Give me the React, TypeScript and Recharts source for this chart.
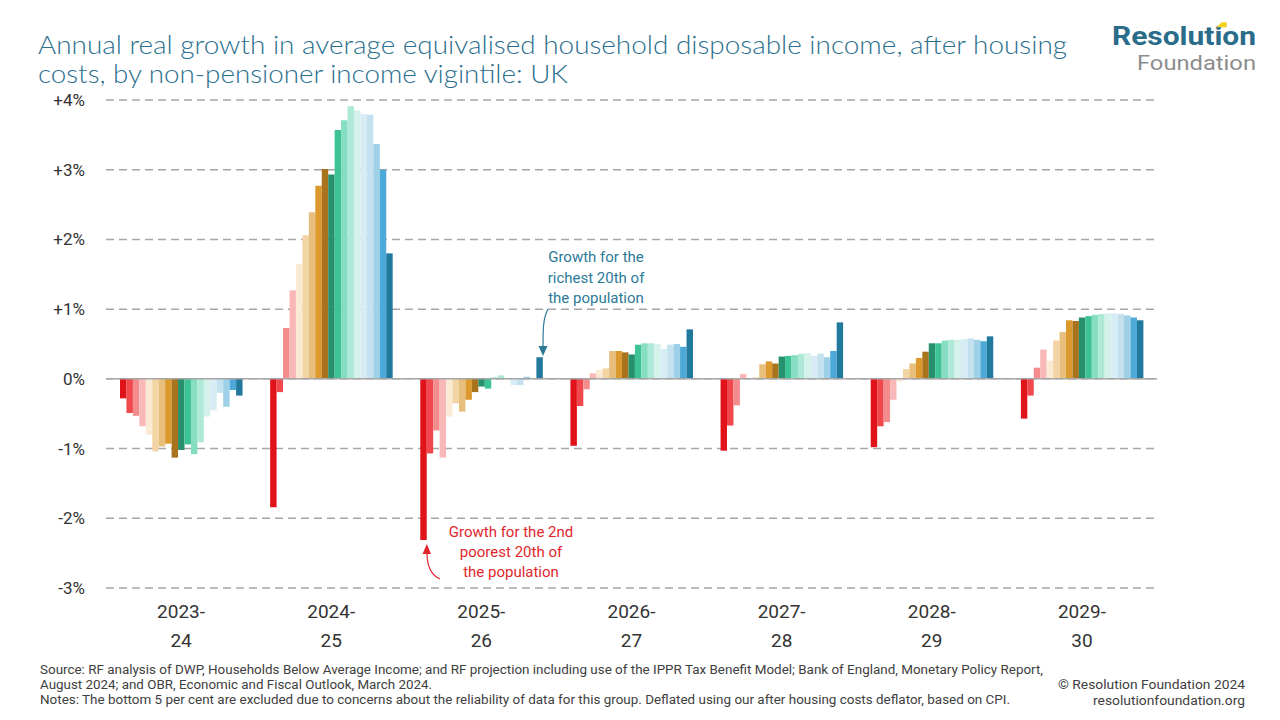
import { BarChart, Bar, XAxis, YAxis, CartesianGrid, ReferenceLine } from 'recharts';

const years = ['2023-24', '2024-25', '2025-26', '2026-27', '2027-28', '2028-29', '2029-30'];
const vigintiles = [2, 3, 4, 5, 6, 7, 8, 9, 10, 11, 12, 13, 14, 15, 16, 17, 18, 19, 20];
const colours = [
    '#e0121a', '#f0484c', '#f48c8e', '#f9b8b8', '#faead3', '#f3d4a4', '#e8be7c', '#dc9a2e', '#a9721d',
    '#27906c', '#3dc293', '#85ddc2', '#aee8d6', '#d4f2ea', '#d8ecf5', '#c3e1ef', '#9ed0e7', '#4ca9d8', '#22799e',
];

// growth (%) by vigintile 2..20, one array per year
const growth2023 = [-0.28, -0.49, -0.53, -0.68, -0.80, -1.04, -0.97, -0.93, -1.13, -1.02, -0.94, -1.08, -0.91, -0.54, -0.45, -0.20, -0.40, -0.16, -0.24];
const growth2024 = [-1.84, -0.19, 0.73, 1.27, 1.65, 2.06, 2.39, 2.77, 3.01, 2.93, 3.57, 3.71, 3.91, 3.85, 3.80, 3.79, 3.37, 3.00, 1.80];
const growth2025 = [-2.31, -1.07, -0.74, -1.13, -0.54, -0.35, -0.47, -0.30, -0.19, -0.11, -0.14, 0.02, 0.05, 0.0, -0.09, -0.09, 0.03, 0.0, 0.31];
const growth2026 = [-0.96, -0.39, -0.15, 0.08, 0.13, 0.15, 0.40, 0.40, 0.38, 0.35, 0.49, 0.51, 0.51, 0.50, 0.43, 0.49, 0.50, 0.46, 0.71];
const growth2027 = [-1.03, -0.67, -0.38, 0.07, 0.01, 0.02, 0.21, 0.25, 0.22, 0.32, 0.33, 0.34, 0.36, 0.37, 0.33, 0.36, 0.31, 0.40, 0.81];
const growth2028 = [-0.98, -0.68, -0.62, -0.30, -0.04, 0.14, 0.22, 0.30, 0.39, 0.51, 0.51, 0.55, 0.56, 0.56, 0.57, 0.58, 0.56, 0.54, 0.61];
const growth2029 = [-0.57, -0.24, 0.16, 0.42, 0.26, 0.55, 0.67, 0.84, 0.83, 0.88, 0.90, 0.92, 0.93, 0.94, 0.94, 0.93, 0.91, 0.88, 0.84];

const yTicks = [-3, -2, -1, 0, 1, 2, 3, 4];

const allGrowth = [growth2023, growth2024, growth2025, growth2026, growth2027, growth2028, growth2029];
const data = years.map((year, i) => {
    const row: any = { year };
    vigintiles.forEach((v, j) => { row['v' + v] = allGrowth[i][j]; });
    return row;
});

const font = 'Roboto, "Noto Sans", sans-serif';
const teal = '#2b6f8e';

const YearTick = (props: any) => {
    const { x, y, payload } = props;
    const [a, b] = String(payload.value).split('-');
    return (
        <text x={x} y={y} textAnchor="middle" fill="#333" fontSize={19} fontFamily={font}>
            <tspan x={x} dy={22}>{a}-</tspan>
            <tspan x={x} dy={29}>{b}</tspan>
        </text>
    );
};

export default function App() {
    return (
        <div style={{ position: 'relative', width: 1280, height: 720, margin: -8, background: '#fff', overflow: 'hidden' }}>
            <BarChart width={1280} height={720} data={data} barGap={0}
                margin={{ top: 100, right: 123, bottom: 72, left: 36 }}>
                <CartesianGrid vertical={false} stroke="#a6a6a6" strokeWidth={1.5} strokeDasharray="8 5" />
                <XAxis dataKey="year" axisLine={false} tickLine={false} height={60} interval={0} tick={<YearTick />} />
                <YAxis domain={[-3, 4]} ticks={yTicks} width={70} axisLine={false} tickLine={false} tickMargin={15}
                    tickFormatter={(v: number) => (v > 0 ? `+${v}%` : `${v}%`)}
                    tick={{ fill: '#333', fontSize: 17, fontFamily: font }} />
                <ReferenceLine y={0} stroke="#a6a6a6" strokeWidth={1.5} />
                {vigintiles.map((v, j) => (
                    <Bar key={v} dataKey={'v' + v} fill={colours[j]} barSize={6.45} isAnimationActive={false} />
                ))}
            </BarChart>

            <svg width={1280} height={720} style={{ position: 'absolute', left: 0, top: 0, pointerEvents: 'none' }}>
                {/* title */}
                <text x={38} y={54} fill={teal} fontSize={26} fontWeight={300} fontFamily='Lato, Roboto, sans-serif'
                    textLength={1029} lengthAdjust="spacingAndGlyphs">
                    Annual real growth in average equivalised household disposable income, after housing
                </text>
                <text x={38} y={83} fill={teal} fontSize={26} fontWeight={300} fontFamily='Lato, Roboto, sans-serif'
                    textLength={530} lengthAdjust="spacingAndGlyphs">
                    costs, by non-pensioner income vigintile: UK
                </text>

                {/* logo */}
                <text x={1112} y={45} fill="#2a6c8a" fontSize={25} fontWeight={700} fontFamily={font}
                    textLength={144} lengthAdjust="spacingAndGlyphs">Resolution</text>
                <polygon points="1216.7,27.3 1221.7,22.3 1226.7,22.3 1226.7,27.3" fill="#f2d21b" />
                <text x={1137} y={70} fill="#8c8c8c" fontSize={20} fontFamily={font}
                    textLength={119} lengthAdjust="spacingAndGlyphs">Foundation</text>

                {/* annotations */}
                <g fill="#2c7a98" fontSize={15} fontFamily={font} textAnchor="middle">
                    <text x={596} y={262}>Growth for the</text>
                    <text x={596} y={283}>richest 20th of</text>
                    <text x={596} y={303}>the population</text>
                </g>
                <path d="M 548 309 C 543 318, 543 330, 543 347" stroke="#2c7a98" strokeWidth={1.2} fill="none" />
                <polygon points="538.5,346 547.5,346 543,356" fill="#2c7a98" />

                <g fill="#e2262c" fontSize={15} fontFamily={font} textAnchor="middle">
                    <text x={511} y={537}>Growth for the 2nd</text>
                    <text x={511} y={557}>poorest 20th of</text>
                    <text x={511} y={577}>the population</text>
                </g>
                <path d="M 427 553 C 427 566, 431 575, 440 579" stroke="#e2262c" strokeWidth={1.2} fill="none" />
                <polygon points="422.5,554 431,554 426.8,544" fill="#e2262c" />

                {/* footer */}
                <g fill="#404040" fontSize={12.5} fontFamily='"Liberation Sans Narrow", Roboto, sans-serif'>
                    <text x={40} y={674} textLength={1003} lengthAdjust="spacingAndGlyphs">
                        Source: RF analysis of DWP, Households Below Average Income; and RF projection including use of the IPPR Tax Benefit Model; Bank of England, Monetary Policy Report,
                    </text>
                    <text x={40} y={689} textLength={392} lengthAdjust="spacingAndGlyphs">
                        August 2024; and OBR, Economic and Fiscal Outlook, March 2024.
                    </text>
                    <text x={40} y={704} textLength={970} lengthAdjust="spacingAndGlyphs">
                        Notes: The bottom 5 per cent are excluded due to concerns about the reliability of data for this group. Deflated using our after housing costs deflator, based on CPI.
                    </text>
                    <text x={1058} y={689} textLength={187} lengthAdjust="spacingAndGlyphs">© Resolution Foundation 2024</text>
                    <text x={1093} y={705} textLength={152} lengthAdjust="spacingAndGlyphs">resolutionfoundation.org</text>
                </g>
            </svg>
        </div>
    );
}
